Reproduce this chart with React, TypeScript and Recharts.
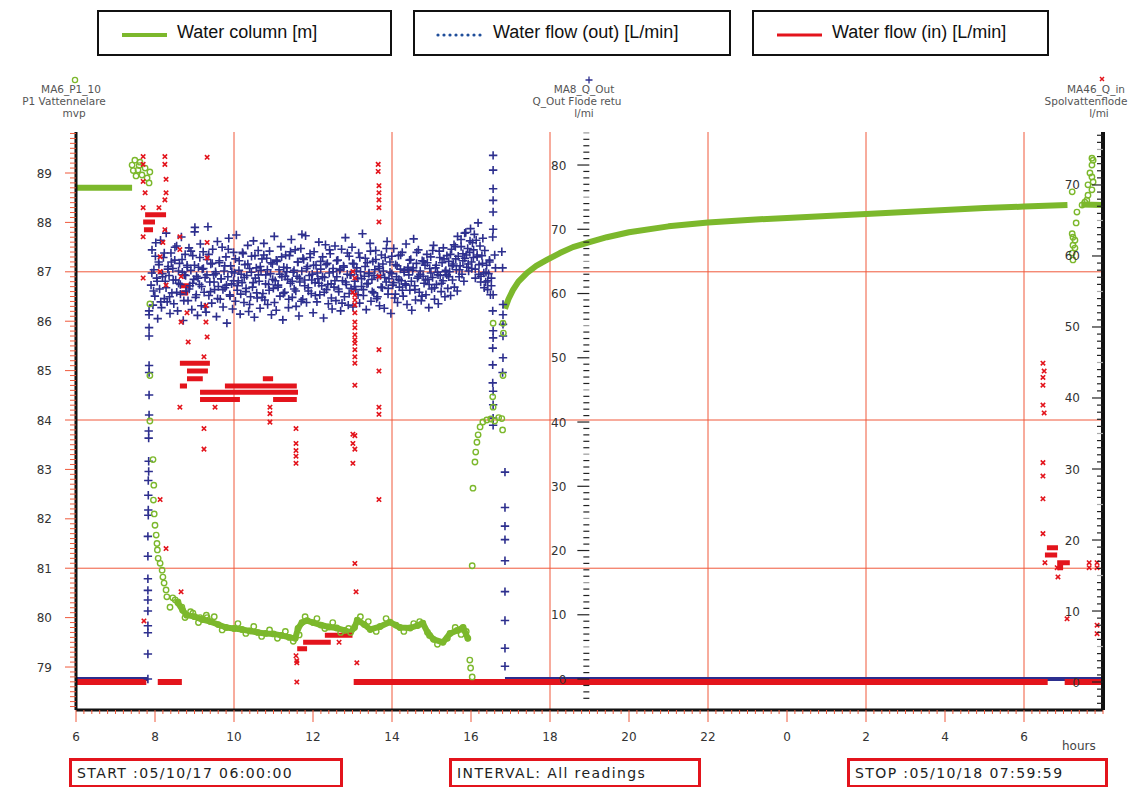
import React from 'react';
import { ComposedChart, XAxis, YAxis, Line, Scatter, ReferenceLine } from 'recharts';

// ---------- colours ----------
const GREEN = '#7CB82C';
const BLUE = '#2D2F8E';
const RED = '#E3141C';
const GRID = '#F0593B';

// ---------- axes ----------
const X_DOMAIN: [number, number] = [6, 32];
const LEFT_DOMAIN: [number, number] = [78.13, 89.83];
const MID_DOMAIN: [number, number] = [-4.82, 85.14];
const RIGHT_DOMAIN: [number, number] = [-3.94, 77.46];

const X_LABEL_HOURS = [6, 8, 10, 12, 14, 16, 18, 20, 22, 24, 26, 28, 30];
const X_LABELS = ['6', '8', '10', '12', '14', '16', '18', '20', '22', '0', '2', '4', '6'];
const LEFT_LABELS = [79, 80, 81, 82, 83, 84, 85, 86, 87, 88, 89];
const RIGHT_LABELS = [0, 10, 20, 30, 40, 50, 60, 70];
const GRID_HOURS = [10, 14, 18, 22, 26, 30];
const GRID_LEVELS = [81, 84, 87];
const MID_AXIS_HOUR = 18.92;

// minor tick positions (axis decoration)
const X_TICKS = Array.from({ length: 131 }, (_, i) => Math.round((6 + i * 0.2) * 10) / 10);
const LEFT_TICKS = Array.from({ length: 117 }, (_, i) => Math.round((78.2 + i * 0.1) * 10) / 10);
const RIGHT_TICKS = Array.from({ length: 81 }, (_, i) => i - 3);
const MID_TICKS = Array.from({ length: 89 }, (_, i) => i - 3);

// ---------- Water column [m] (left axis) ----------
const WATER_RUN_FLAT = [[6.0, 88.7], [7.42, 88.7]];
const WATER_RUN_DAY = [
  [8.58, 80.3], [8.7, 80.15], [8.8, 80.05], [9.0, 80.02], [9.2, 79.96], [9.4, 79.92], [9.6, 79.86],
  [9.8, 79.8], [10.0, 79.78], [10.2, 79.76], [10.4, 79.73], [10.6, 79.7], [10.8, 79.68], [11.0, 79.67],
  [11.2, 79.64], [11.4, 79.6], [11.55, 79.58], [11.62, 79.78], [11.72, 79.9], [11.85, 79.94], [12.0, 79.9],
  [12.2, 79.85], [12.4, 79.81], [12.6, 79.79], [12.8, 79.74], [12.95, 79.7], [13.05, 79.8], [13.12, 79.95],
  [13.3, 79.86], [13.45, 79.76], [13.7, 79.82], [13.95, 79.91], [14.2, 79.8], [14.46, 79.79], [14.65, 79.84],
  [14.78, 79.89], [14.9, 79.7], [15.05, 79.56], [15.29, 79.5], [15.47, 79.68], [15.65, 79.74], [15.8, 79.8],
  [15.92, 79.58],
];
const WATER_DAY_SPREAD = [
  [8.9, 80.12], [9.1, 79.9], [9.3, 80.05], [9.5, 80.02], [9.7, 79.75], [10.1, 79.88], [10.3, 79.68],
  [10.5, 79.82], [10.7, 79.62], [10.9, 79.75], [11.1, 79.58], [11.3, 79.72], [11.5, 79.52], [11.65, 79.65],
  [11.8, 80.02], [12.1, 79.98], [12.3, 79.78], [12.5, 79.9], [12.7, 79.7], [12.9, 79.78], [13.2, 80.02],
  [13.4, 79.92], [13.6, 79.72], [13.85, 79.98], [14.1, 79.85], [14.3, 79.72], [14.55, 79.88], [14.7, 79.92],
  [14.95, 79.64], [15.15, 79.46], [15.4, 79.58], [15.6, 79.8], [15.75, 79.66], [15.88, 79.72],
];
const WATER_RUN_REFILL = [
  [16.86, 86.25], [16.95, 86.45], [17.06, 86.63], [17.2, 86.8], [17.42, 86.98], [17.65, 87.12],
  [17.92, 87.24], [18.25, 87.38], [18.58, 87.5], [19.0, 87.6], [19.44, 87.7], [20.0, 87.8], [21.0, 87.92],
  [22.0, 88.0], [23.0, 88.05], [24.0, 88.09], [25.0, 88.13], [26.0, 88.17], [27.0, 88.21], [28.0, 88.25],
  [29.0, 88.29], [30.0, 88.32], [31.1, 88.35],
];
const WATER_RUN_END = [[31.45, 88.36], [32.0, 88.35]];
const WATER_POINTS = [
  [7.42, 89.16], [7.45, 89.05], [7.49, 89.26], [7.52, 88.94], [7.57, 89.06], [7.6, 89.15], [7.62, 89.22],
  [7.67, 88.96], [7.75, 89.1], [7.8, 88.9], [7.85, 88.8], [7.87, 89.02],
  [7.87, 86.35], [7.87, 84.9], [7.87, 83.98], [7.95, 83.2], [7.97, 82.68], [7.96, 82.38], [7.98, 82.1],
  [8.0, 81.87], [8.03, 81.67], [8.05, 81.5], [8.06, 81.37], [8.08, 81.2], [8.13, 81.1], [8.18, 80.96],
  [8.2, 80.82], [8.23, 80.7], [8.28, 80.56], [8.3, 80.42], [8.38, 80.21], [8.45, 80.4], [8.51, 80.36],
  [8.58, 80.32], [8.68, 80.21], [8.76, 80.0], [8.96, 80.09], [9.14, 80.0], [9.32, 80.0],
  [15.97, 79.14], [15.99, 78.98], [16.03, 78.8], [16.03, 81.05], [16.05, 82.62], [16.1, 83.15],
  [16.12, 83.35], [16.15, 83.55], [16.18, 83.7], [16.23, 83.86], [16.3, 83.96], [16.4, 84.0], [16.5, 84.02],
  [16.6, 83.98], [16.7, 84.05], [16.78, 84.03], [16.56, 84.26], [16.55, 84.47], [16.56, 85.96],
  [16.81, 85.96], [16.82, 85.76], [16.81, 84.9], [16.8, 83.8],
  [31.22, 88.62], [31.34, 88.21], [31.32, 87.99], [31.22, 87.77], [31.24, 87.7], [31.29, 87.64],
  [31.24, 87.54], [31.29, 87.48], [31.22, 87.38], [31.24, 87.24],
  [31.72, 89.3], [31.75, 89.26], [31.72, 89.16], [31.67, 89.0], [31.72, 88.92], [31.75, 88.82],
  [31.62, 88.76], [31.72, 88.66], [31.62, 88.55], [31.59, 88.45], [31.54, 88.41], [31.47, 88.35],
];

// ---------- Water flow (out) [L/min] (middle axis) ----------
const OUT_ZERO_RUNS = [[6.0, 7.82], [16.86, 32.0]];
const OUT_CLOUD_START = 7.9;
const READING_STEP = 0.024;
const OUT_CLOUD = [
  61.3, 66.8, 58.2, 63.7, 59.6, 67.9, 62.4, 56.1, 64.9, 60.7, 68.3, 57.8, 63.1, 65.6, 59.2, 61.9, 69.4, 58.7, 64.2, 62.8, 56.9, 66.3, 60.1, 63.9,
  58.4, 65.2, 62.1, 67.4, 57.3, 61.6, 64.7, 59.9, 68.8, 63.3, 55.8, 62.9, 66.1, 60.4, 64.4, 58.9, 67.1, 61.2, 63.6, 57.5, 65.9, 62.2, 69.6, 59.4,
  62.7, 56.6, 64.1, 61.4, 67.7, 58.1, 63.8, 66.5, 60.2, 62.5, 57.1, 65.3, 70.4, 59.7, 61.8, 64.6, 58.5, 66.9, 62.9, 60.6, 63.4, 56.4, 68.1, 61.1,
  64.8, 59.1, 62.3, 67.2, 57.9, 63.5, 60.9, 65.7, 55.4, 62.6, 68.6, 59.8, 64.3, 61.5, 57.6, 66.4, 63.2, 58.8, 69.1, 60.5, 62.0, 65.1, 56.8, 63.0,
  61.7, 66.2, 58.6, 64.5, 60.3, 62.8, 67.5, 57.2, 63.9, 59.5, 65.8, 61.0, 68.2, 56.3, 62.4, 64.0, 59.3, 66.7, 61.9, 57.7, 63.6, 65.4, 60.0, 67.8,
  59.0, 62.9, 65.5, 58.3, 61.4, 66.6, 63.1, 56.7, 64.6, 60.8, 68.9, 62.0, 57.4, 65.0, 61.3, 63.7, 59.6, 67.3, 62.6, 55.9, 64.1, 60.2, 66.0, 63.4,
  62.2, 57.8, 65.9, 61.6, 68.4, 59.4, 63.3, 60.7, 66.8, 58.0, 62.7, 64.9, 56.5, 61.8, 67.0, 63.5, 59.1, 65.3, 62.1, 69.0, 58.6, 64.2, 60.4, 62.8,
  65.6, 60.0, 63.0, 57.0, 66.5, 61.7, 64.4, 58.7, 62.3, 68.0, 59.8, 63.8, 61.2, 65.7, 56.2, 62.5, 67.6, 60.6, 64.7, 58.4, 63.2, 66.2, 61.5, 57.6,
  63.9, 61.0, 67.4, 58.9, 62.6, 65.2, 60.3, 63.6, 57.3, 66.9, 62.0, 64.3, 59.5, 68.7, 61.4, 63.0, 58.2, 65.8, 62.9, 60.8, 67.2, 57.9, 64.6, 61.9,
  60.6, 64.0, 62.4, 66.3, 58.5, 63.4, 61.1, 69.3, 59.7, 62.7, 65.5, 57.5, 64.8, 61.6, 63.2, 67.8, 58.8, 62.2, 65.0, 60.1, 63.7, 66.7, 59.2, 62.5,
  64.2, 58.1, 62.8, 66.0, 60.9, 63.5, 57.7, 65.6, 61.8, 68.1, 59.9, 62.3, 64.9, 56.9, 63.1, 61.3, 67.0, 59.3, 64.5, 62.6, 58.6, 65.9, 61.0, 63.8,
  62.0, 66.4, 59.6, 63.3, 61.5, 67.7, 58.3, 64.1, 62.9, 60.5, 65.3, 57.4, 63.6, 68.5, 61.2, 59.0, 64.7, 62.4, 66.8, 60.2, 63.0, 58.9, 65.1, 62.7,
  61.6, 64.4, 59.8, 66.1, 62.2, 57.8, 63.9, 65.7, 60.7, 62.5, 67.5, 59.1, 64.0, 61.4, 63.3, 58.4, 66.6, 62.8, 60.3, 64.8, 62.0, 65.4, 59.5, 63.6,
  62.9, 60.8, 65.0, 63.4, 59.7, 66.9, 62.1, 64.6, 61.0, 67.3, 63.7, 60.4, 65.8, 62.6, 64.3, 68.4, 63.0, 66.2, 61.9, 65.5, 69.5, 64.1, 67.0, 63.5,
  66.4, 70.1, 64.9, 67.9, 65.6, 69.2, 63.8, 68.3, 66.0, 71.0, 64.5, 67.4, 62.7, 65.9, 68.6, 63.2, 66.7, 61.8, 64.4, 60.6, 63.1, 65.2, 59.8, 62.4,
];
// second (interleaved) reading channel of the same flow meter
const OUT_CLOUD_B_START = 7.92;
const READING_STEP_B = 0.045;
const OUT_CLOUD_B = [
  63.2, 60.4, 65.8, 61.9, 64.5, 58.7, 62.6, 66.3, 60.9, 63.8, 59.5, 64.9, 62.1, 67.2, 60.2, 63.5, 61.4, 65.3, 58.9, 62.8, 64.1, 60.7, 66.6, 61.6,
  64.4, 59.8, 62.4, 65.6, 61.1, 63.9, 57.9, 62.9, 66.1, 60.3, 64.7, 61.8, 63.1, 59.2, 65.1, 62.3, 60.6, 64.3, 61.3, 66.9, 59.6, 63.4, 62.0, 65.4,
  61.2, 63.6, 59.9, 66.4, 62.5, 60.8, 64.6, 58.3, 63.3, 61.7, 65.9, 60.1, 62.9, 64.2, 59.4, 66.0, 61.5, 63.7, 60.5, 64.8, 62.2, 58.6, 65.2, 61.0,
  63.0, 65.7, 60.0, 62.7, 64.0, 59.1, 66.5, 61.9, 63.6, 60.4, 64.9, 62.4, 58.8, 65.5, 61.2, 63.9, 60.9, 66.2, 62.1, 64.4, 59.7, 63.2, 61.6, 65.0,
  62.6, 60.2, 64.5, 61.4, 66.8, 59.3, 63.4, 62.0, 65.1, 60.7, 63.8, 58.5, 64.1, 61.8, 66.3, 60.0, 62.9, 64.7, 61.1, 63.5, 59.8, 65.6, 62.3, 60.6,
  64.2, 61.5, 63.1, 66.6, 60.3, 62.8, 65.3, 59.5, 63.9, 61.0, 64.6, 62.5, 67.0, 60.8, 63.3, 65.8, 61.7, 59.9, 64.3, 62.2, 66.0, 60.5, 63.6, 61.3,
  63.8, 65.2, 61.9, 64.0, 60.6, 66.4, 62.7, 63.5, 59.6, 65.0, 62.1, 64.8, 61.4, 63.2, 66.7, 60.9, 64.4, 62.9, 65.6, 61.6, 67.1, 63.4, 65.9, 62.6,
  66.1, 64.3, 67.6, 65.4, 68.9, 63.7, 67.3, 65.1, 69.4, 66.0, 64.6, 68.2, 63.9, 66.8, 62.4, 65.7, 63.0, 61.8, 64.7, 60.9, 63.3, 62.0, 64.9, 61.2,
];
const OUT_POINTS = [
  [7.82, 0], [7.82, 3.9], [7.82, 7.2], [7.82, 8.3], [7.82, 10.6], [7.82, 12.3], [7.82, 13.8], [7.82, 15.6],
  [7.82, 19.1], [7.82, 22.2], [7.83, 25.5], [7.83, 26.3], [7.83, 28.6], [7.83, 30.9], [7.84, 32.3],
  [7.84, 33.9], [7.84, 37.5], [7.84, 38.6], [7.85, 41.1], [7.85, 44.2], [7.85, 47.7], [7.85, 48.8],
  [7.85, 53.4], [7.85, 54.7], [7.85, 56.7], [7.85, 57.3],
  [9.01, 70.3], [11.72, 69.2],
  [16.56, 81.5], [16.56, 79.2], [16.56, 76.3], [16.56, 74.5], [16.56, 72.7], [16.56, 70.0], [16.55, 68.8],
  [16.56, 59.8], [16.55, 57.3], [16.56, 54.2], [16.56, 53.1], [16.55, 51.5], [16.55, 48.9], [16.55, 46.1],
  [16.56, 44.8], [16.56, 42.7], [16.56, 40.6], [16.56, 39.5], [16.6, 66.0], [16.62, 64.0],
  [16.81, 58.3], [16.81, 56.7], [16.81, 55.2], [16.81, 53.4], [16.81, 50.0], [16.8, 47.7], [16.78, 66.5],
  [16.8, 64.0], [16.86, 32.2], [16.86, 26.7], [16.86, 23.8], [16.86, 21.7], [16.86, 18.4], [16.86, 13.6],
  [16.86, 9.1], [16.86, 4.8], [16.86, 2.0],
];

// ---------- Water flow (in) [L/min] (right axis) ----------
const IN_ZERO_RUNS = [[6.0, 7.78], [8.07, 8.68], [13.03, 30.6], [31.03, 32.0]];
const IN_RUNS = [
  [7.75, 8.28, 65.8], [7.7, 8.0, 64.8], [7.72, 7.95, 63.7],
  [8.63, 8.88, 55.8], [8.63, 8.84, 54.8],
  [8.63, 9.39, 44.9], [8.81, 9.34, 43.8], [8.81, 9.21, 42.7], [8.63, 8.81, 41.7],
  [9.77, 11.59, 41.7], [9.14, 11.62, 40.8], [9.14, 10.15, 39.8], [10.99, 11.59, 39.8], [10.73, 10.99, 42.7],
  [11.6, 11.85, 4.7], [11.75, 12.45, 5.6], [12.3, 13.0, 6.6],
  [30.58, 30.86, 18.9], [30.53, 30.84, 17.9], [30.84, 31.16, 16.8], [30.84, 30.99, 16.1],
];
const IN_POINTS = [
  [7.7, 74.0], [7.7, 72.9], [7.7, 70.5], [7.7, 66.8], [7.7, 62.7], [7.7, 56.9], [7.75, 68.9], [7.72, 8.6],
  [8.25, 74.0], [8.25, 72.9], [8.25, 67.9], [8.25, 63.7], [8.28, 70.8], [8.28, 68.9], [8.28, 55.9],
  [8.28, 18.8], [8.1, 66.8], [8.2, 61.9], [8.13, 59.9], [8.13, 57.8], [8.13, 25.7],
  [9.32, 73.9], [9.32, 61.9], [9.32, 59.7], [9.32, 48.6], [9.29, 53.0], [9.29, 50.7], [9.24, 45.8],
  [9.24, 35.7], [9.24, 32.8], [8.63, 62.7], [8.63, 60.9], [8.63, 38.7], [8.66, 57.1], [8.66, 50.7],
  [8.66, 12.7], [8.81, 52.0], [8.84, 47.9], [9.52, 38.7],
  [10.91, 38.7], [10.91, 37.8], [10.91, 36.6],
  [11.57, 35.7], [11.57, 33.6], [11.57, 32.6], [11.57, 31.8], [11.57, 30.8], [11.57, 3.7], [11.59, 3.0],
  [11.59, 2.7], [11.59, 0], [12.66, 5.6],
  [13.01, 57.8], [13.01, 54.9], [13.01, 34.9], [13.01, 33.6], [13.01, 30.8],
  [13.06, 56.9], [13.06, 54.5], [13.06, 53.8], [13.06, 53.1], [13.06, 52.0], [13.06, 50.7], [13.06, 49.9],
  [13.06, 48.9], [13.06, 48.2], [13.06, 47.7], [13.06, 46.8], [13.06, 45.8], [13.06, 44.9], [13.06, 41.8],
  [13.06, 34.7], [13.06, 32.8], [13.06, 16.7], [13.09, 12.7], [13.11, 2.7],
  [13.65, 72.9], [13.65, 71.9], [13.67, 69.9], [13.67, 68.9], [13.67, 67.9], [13.67, 66.8], [13.67, 64.8],
  [13.67, 57.1], [13.67, 46.8], [13.67, 43.8], [13.67, 38.7], [13.67, 37.7], [13.67, 25.7],
  [30.48, 44.9], [30.48, 42.9], [30.48, 41.8], [30.48, 39.0], [30.48, 30.9], [30.48, 29.0], [30.48, 25.8],
  [30.48, 20.9], [30.51, 43.8], [30.51, 37.9], [30.53, 16.8], [30.86, 14.8], [30.84, 16.1], [31.09, 8.9],
  [31.65, 16.8], [31.65, 16.1], [31.85, 16.8], [31.85, 16.1], [31.85, 8.0], [31.85, 6.8],
];

// ---------- helpers to build library data ----------
const toPts = (arr: number[][]) => arr.map(([x, y]) => ({ x, y }));
const zeroRunsToLine = (runs: number[][]) =>
  runs.flatMap(([a, b]) => [{ x: a, y: 0 }, { x: b, y: 0 }, { x: b + 0.001, y: null }]);
const levelRunsToLine = (runs: number[][]) =>
  runs.flatMap(([a, b, v]) => [{ x: a, y: v }, { x: b, y: v }, { x: b + 0.001, y: null }]);
const joinRuns = (...runs: number[][][]) =>
  runs.flatMap((r) => [...toPts(r), { x: r[r.length - 1][0] + 0.001, y: null }]);

const waterLineData = joinRuns(WATER_RUN_FLAT, WATER_RUN_REFILL, WATER_RUN_END);
const waterDayData = toPts(WATER_RUN_DAY);
const waterSpreadData = toPts(WATER_DAY_SPREAD);
const waterPointData = toPts(WATER_POINTS);
const outZeroData = zeroRunsToLine(OUT_ZERO_RUNS);
const outCloudData = [
  ...OUT_CLOUD.map((v, k) => ({ x: OUT_CLOUD_START + k * READING_STEP, y: v })),
  ...OUT_CLOUD_B.map((v, k) => ({ x: OUT_CLOUD_B_START + k * READING_STEP_B, y: v })),
];
const outPointData = toPts(OUT_POINTS);
const inZeroData = zeroRunsToLine(IN_ZERO_RUNS);
const inRunData = levelRunsToLine(IN_RUNS);
const inPointData = toPts(IN_POINTS);
const midTickData = MID_TICKS.map((v) => ({ x: MID_AXIS_HOUR, y: v }));

// ---------- shapes ----------
const Ring = (p: any) =>
  p.cx == null ? <g /> : <circle cx={p.cx} cy={p.cy} r={2.7} fill="none" stroke={GREEN} strokeWidth={1.4} />;
const Plus = (p: any) =>
  p.cx == null ? <g /> : (
    <path d={`M${p.cx - 4.2},${p.cy}H${p.cx + 4.2}M${p.cx},${p.cy - 4.2}V${p.cy + 4.2}`} stroke={BLUE} strokeWidth={1.6} />
  );
const Cross = (p: any) =>
  p.cx == null ? <g /> : (
    <path d={`M${p.cx - 2.2},${p.cy - 2.2}L${p.cx + 2.2},${p.cy + 2.2}M${p.cx + 2.2},${p.cy - 2.2}L${p.cx - 2.2},${p.cy + 2.2}`} stroke={RED} strokeWidth={1.6} />
  );
const MidTick = (p: any) => {
  if (p.cx == null) return <g />;
  const v = p.payload?.y;
  const major = v % 10 === 0;
  return (
    <g>
      <line x1={p.cx - (major ? 9 : 3)} x2={p.cx + 3} y1={p.cy} y2={p.cy} stroke={v % 5 === 0 && !major ? '#999' : '#222'} strokeWidth={1.2} />
      {major && (
        <text x={p.cx - 20} y={p.cy + 4.5} textAnchor="end" fontSize={12} fill="#333" fontFamily="DejaVu Sans">{v}</text>
      )}
    </g>
  );
};

// ---------- ticks ----------
const XTick = (p: any) => {
  const v = Math.round(p.payload.value * 10) / 10;
  const idx = X_LABEL_HOURS.indexOf(v);
  const major = idx >= 0;
  return (
    <g>
      <line x1={p.x} x2={p.x} y1={p.y} y2={p.y + (major ? 12 : 4)} stroke={GRID} strokeWidth={1} />
      {major && (
        <text x={p.x} y={p.y + 31} textAnchor="middle" fontSize={12} fill="#333" fontFamily="DejaVu Sans">{X_LABELS[idx]}</text>
      )}
    </g>
  );
};
const LeftTick = (p: any) => {
  const v = Math.round(p.payload.value * 10) / 10;
  const major = LEFT_LABELS.includes(v);
  return (
    <g>
      <line x1={p.x - (major ? 11 : 6)} x2={p.x} y1={p.y} y2={p.y} stroke={GRID} strokeWidth={1} />
      {major && (
        <text x={p.x - 24} y={p.y + 4.5} textAnchor="end" fontSize={12} fill="#333" fontFamily="DejaVu Sans">{v}</text>
      )}
    </g>
  );
};
const RightTick = (p: any) => {
  const v = Math.round(p.payload.value);
  const major = RIGHT_LABELS.includes(v);
  return (
    <g>
      <line x1={p.x - (major ? 11 : 6)} x2={p.x} y1={p.y} y2={p.y} stroke={v % 5 === 0 && !major ? '#aaa' : '#222'} strokeWidth={1.2} />
      {major && (
        <text x={p.x - 23} y={p.y + 4.5} textAnchor="end" fontSize={12} fill="#333" fontFamily="DejaVu Sans">{v}</text>
      )}
    </g>
  );
};

// ---------- overlays ----------
const legendBox = (left: number, width: number, label: string, marker: React.ReactNode) => (
  <div
    style={{
      position: 'absolute', left, top: 10, width, height: 46, boxSizing: 'border-box',
      border: '2px solid #111', background: '#fff',
    }}
  >
    <svg width={60} height={42} style={{ position: 'absolute', left: 18, top: 0 }}>{marker}</svg>
    <div
      style={{
        position: 'absolute', left: 78, top: 10, fontFamily: 'Liberation Sans, Arial, sans-serif',
        fontSize: 18, color: '#111', whiteSpace: 'nowrap',
      }}
    >
      {label}
    </div>
  </div>
);

const infoBox = (left: number, width: number, label: string) => (
  <div
    style={{
      position: 'absolute', left, top: 758, width, height: 30, boxSizing: 'border-box',
      border: '3px solid #E3141C', background: '#fff',
    }}
  >
    <div
      style={{
        position: 'absolute', left: 5, top: 4, fontFamily: 'DejaVu Sans, Verdana, sans-serif',
        fontSize: 14, letterSpacing: 1.4, color: '#222', whiteSpace: 'nowrap',
      }}
    >
      {label}
    </div>
  </div>
);

const headerText = (x: number, y: number, s: string) => (
  <text x={x} y={y} textAnchor="middle" fontSize={10.5} fill="#555" fontFamily="DejaVu Sans">{s}</text>
);

export default function App() {
  return (
    <div style={{ position: 'absolute', left: 0, top: 0, width: 1136, height: 787, background: '#fff', overflow: 'hidden' }}>
      <ComposedChart
        width={1136}
        height={787}
        margin={{ top: 132, right: 0, bottom: 0, left: 0 }}
        style={{ position: 'absolute', left: 0, top: 0 }}
      >
        <XAxis
          xAxisId="b" dataKey="x" type="number" domain={X_DOMAIN} allowDataOverflow ticks={X_TICKS} interval={0}
          tick={XTick} tickLine={false} tickSize={0} tickMargin={0} height={77}
          axisLine={{ stroke: '#111', strokeWidth: 3 }}
        />
        <XAxis
          xAxisId="t" orientation="top" type="number" domain={X_DOMAIN} allowDataOverflow height={0}
          tick={false} tickLine={false} axisLine={{ stroke: '#111', strokeWidth: 3 }}
        />
        <YAxis
          yAxisId="L" dataKey="y" type="number" domain={LEFT_DOMAIN} allowDataOverflow ticks={LEFT_TICKS} interval={0}
          tick={LeftTick} tickLine={false} tickSize={0} tickMargin={0} width={76}
          axisLine={{ stroke: '#111', strokeWidth: 3 }}
        />
        <YAxis yAxisId="M" dataKey="y" type="number" domain={MID_DOMAIN} allowDataOverflow hide />
        <YAxis
          yAxisId="R" orientation="right" dataKey="y" type="number" domain={RIGHT_DOMAIN} allowDataOverflow
          ticks={RIGHT_TICKS} interval={0} tick={RightTick} tickLine={false} tickSize={0} tickMargin={0} width={33}
          axisLine={{ stroke: '#111', strokeWidth: 4 }}
        />

        {GRID_LEVELS.map((v) => (
          <ReferenceLine key={'h' + v} xAxisId="b" yAxisId="L" y={v} stroke={GRID} strokeWidth={1} />
        ))}
        {GRID_HOURS.map((h) => (
          <ReferenceLine key={'v' + h} xAxisId="b" yAxisId="L" x={h} stroke={GRID} strokeWidth={1} />
        ))}

        <Scatter xAxisId="b" yAxisId="M" data={midTickData} shape={MidTick} isAnimationActive={false} />

        <Line
          xAxisId="b" yAxisId="M" data={outZeroData} dataKey="y" stroke={BLUE} strokeWidth={4}
          dot={false} activeDot={false} isAnimationActive={false} connectNulls={false}
        />
        <Scatter xAxisId="b" yAxisId="M" data={outCloudData} shape={Plus} isAnimationActive={false} />
        <Scatter xAxisId="b" yAxisId="M" data={outPointData} shape={Plus} isAnimationActive={false} />

        <Line
          xAxisId="b" yAxisId="L" data={waterLineData} dataKey="y" stroke={GREEN} strokeWidth={6}
          strokeLinejoin="round" dot={false} activeDot={false} isAnimationActive={false} connectNulls={false}
        />
        <Line
          xAxisId="b" yAxisId="L" data={waterDayData} dataKey="y" stroke={GREEN} strokeWidth={6}
          strokeLinejoin="round" strokeLinecap="round" dot={false} activeDot={false} isAnimationActive={false}
        />
        <Scatter xAxisId="b" yAxisId="L" data={waterDayData} shape={Ring} isAnimationActive={false} />
        <Scatter xAxisId="b" yAxisId="L" data={waterSpreadData} shape={Ring} isAnimationActive={false} />
        <Scatter xAxisId="b" yAxisId="L" data={waterPointData} shape={Ring} isAnimationActive={false} />

        <Line
          xAxisId="b" yAxisId="R" data={inZeroData} dataKey="y" stroke={RED} strokeWidth={6}
          dot={false} activeDot={false} isAnimationActive={false} connectNulls={false}
        />
        <Line
          xAxisId="b" yAxisId="R" data={inRunData} dataKey="y" stroke={RED} strokeWidth={5}
          dot={false} activeDot={false} isAnimationActive={false} connectNulls={false}
        />
        <Scatter xAxisId="b" yAxisId="R" data={inPointData} shape={Cross} isAnimationActive={false} />
      </ComposedChart>

      {legendBox(97, 295, 'Water column [m]', <line x1={5} x2={50} y1={23} y2={23} stroke={GREEN} strokeWidth={4} />)}
      {legendBox(413, 318, 'Water flow (out) [L/min]', (
        <g>
          {[0, 1, 2, 3, 4, 5, 6, 7].map((i) => (
            <circle key={i} cx={5 + i * 6} cy={23} r={1.6} fill="#1F4E9A" />
          ))}
        </g>
      ))}
      {legendBox(752, 297, 'Water flow (in) [L/min]', <line x1={5} x2={50} y1={23} y2={23} stroke={RED} strokeWidth={3} />)}

      <svg width={1136} height={130} style={{ position: 'absolute', left: 0, top: 0, pointerEvents: 'none' }}>
        <circle cx={75} cy={80} r={2.6} fill="none" stroke={GREEN} strokeWidth={1.3} />
        {headerText(71, 93, 'MA6_P1_10')}
        {headerText(64, 105, 'P1 Vattennelare')}
        {headerText(74, 117, 'mvp')}
        <path d="M585.5,80H592.5M589,76.5V83.5" stroke={BLUE} strokeWidth={1.3} />
        {headerText(584, 93, 'MA8_Q_Out')}
        {headerText(577, 105, 'Q_Out Flode retu')}
        {headerText(584, 117, 'l/mi')}
        <path d="M1100,77L1104,81M1104,77L1100,81" stroke={RED} strokeWidth={1.5} />
        {headerText(1096, 93, 'MA46_Q_in')}
        {headerText(1086, 105, 'Spolvattenflode')}
        {headerText(1099, 117, 'l/mi')}
      </svg>

      <div
        style={{
          position: 'absolute', left: 1062, top: 739, fontFamily: 'DejaVu Sans', fontSize: 12, color: '#444',
        }}
      >
        hours
      </div>

      {infoBox(69, 274, 'START :05/10/17 06:00:00')}
      {infoBox(449, 252, 'INTERVAL: All readings')}
      {infoBox(847, 261, 'STOP :05/10/18 07:59:59')}
    </div>
  );
}
